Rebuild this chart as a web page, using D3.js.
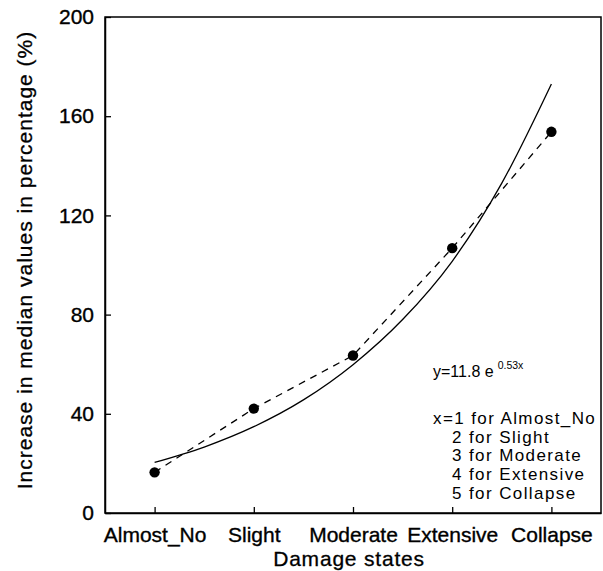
<!DOCTYPE html>
<html><head><meta charset="utf-8">
<script src="https://cdn.jsdelivr.net/npm/d3@7"></script>
<style>body{margin:0;background:#fff}svg{display:block}text{font-family:"Liberation Sans",Arial,sans-serif;fill:#000}</style>
</head><body><svg id="c" width="603" height="571"></svg>
<script>
const categories = ["Almost_No","Slight","Moderate","Extensive","Collapse"];
const observed = [16.4, 42.1, 63.5, 106.8, 153.7];
const fitX = [1, 1.5, 2, 2.5, 3, 3.5, 4, 4.5, 5];
const fitY = [20.4, 26.6, 34.8, 45.6, 59.8, 78, 101.5, 133, 173];
const yTicks = [0, 40, 80, 120, 160, 200];
const legendLines = ["x=1 for Almost_No","2 for Slight","3 for Moderate","4 for Extensive","5 for Collapse"];

const svg = d3.select("#c");
const L = 105, R = 601, T = 17, B = 513;
const x = d3.scaleLinear().domain([0.5, 5.5]).range([L, R]);
const y = d3.scaleLinear().domain([0, 200]).range([B, T]);
const FF = '"Liberation Sans",Arial,sans-serif';

// frame
svg.append("rect").attr("x", L).attr("y", T).attr("width", R - L).attr("height", B - T)
  .attr("fill", "none").attr("stroke", "#000").attr("stroke-width", 1.5);

// y axis
const ya = svg.append("g").attr("transform", `translate(${L},0)`)
  .call(d3.axisLeft(y).tickValues(yTicks).tickSizeInner(-6).tickSizeOuter(0).tickPadding(11));
ya.select(".domain").attr("stroke", "#000").attr("stroke-width", 1.5);
ya.selectAll("line").attr("stroke", "#000").attr("stroke-width", 1.3);
ya.selectAll("text").attr("font-size", 21).style("font-family", FF).attr("stroke", "#000").attr("stroke-width", 0.35);

// x axis
const xa = svg.append("g").attr("transform", `translate(0,${B})`)
  .call(d3.axisBottom(x).tickValues([1,2,3,4,5]).tickFormat((d,i) => categories[i]).tickSizeInner(-6).tickSizeOuter(0).tickPadding(14));
xa.select(".domain").attr("stroke", "#000").attr("stroke-width", 1.5);
xa.selectAll("line").attr("stroke", "#000").attr("stroke-width", 1.3);
xa.selectAll("text").attr("font-size", 21).style("font-family", FF).attr("stroke", "#000").attr("stroke-width", 0.35);

// axis titles
svg.append("text").attr("x", 349).attr("y", 566).attr("text-anchor", "middle")
  .attr("font-size", 21).attr("letter-spacing", 0.8).attr("stroke", "#000").attr("stroke-width", 0.3).text("Damage states");
svg.append("text").attr("transform", "translate(32,260) rotate(-90)").attr("text-anchor", "middle")
  .attr("font-size", 21).attr("letter-spacing", 1).attr("stroke", "#000").attr("stroke-width", 0.3).text("Increase in median values in percentage (%)");

// fitted curve
const fit = fitX.map((v, i) => [v, fitY[i]]);
svg.append("path").datum(fit).attr("fill", "none").attr("stroke", "#000").attr("stroke-width", 1.3)
  .attr("d", d3.line().x(d => x(d[0])).y(d => y(d[1])).curve(d3.curveMonotoneX));

// dashed line through observed
const obs = observed.map((v, i) => [i + 1, v]);
svg.append("path").datum(obs).attr("fill", "none").attr("stroke", "#000").attr("stroke-width", 1.3)
  .attr("stroke-dasharray", "7,6")
  .attr("d", d3.line().x(d => x(d[0])).y(d => y(d[1])));

svg.selectAll("circle.pt").data(obs).join("circle").attr("class", "pt")
  .attr("cx", d => x(d[0])).attr("cy", d => y(d[1])).attr("r", 5.2).attr("fill", "#000");

// equation
const eq = svg.append("text").attr("x", 433).attr("y", 377).attr("font-size", 16);
eq.append("tspan").text("y=11.8 e");
eq.append("tspan").attr("font-size", 10.5).attr("dx", 4).attr("dy", -8).text("0.53x");

// legend lines
svg.selectAll("text.lg").data(legendLines).join("text").attr("class", "lg")
  .attr("x", (d, i) => i === 0 ? 433 : 452).attr("y", (d, i) => 424 + i * 18.7)
  .attr("font-size", 17).attr("letter-spacing", 1.4).text(d => d);
</script></body></html>
